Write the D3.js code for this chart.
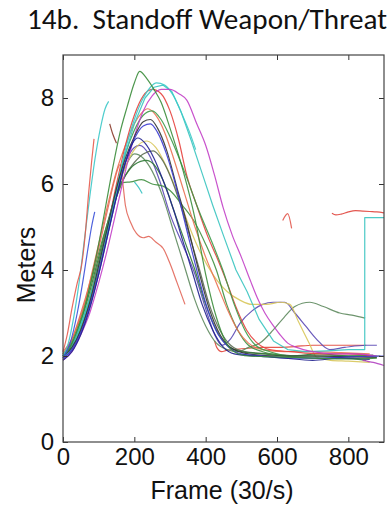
<!DOCTYPE html>
<html>
<head>
<meta charset="utf-8">
<script src="https://cdn.jsdelivr.net/npm/d3@7"></script>
<style>
  body { margin: 0; background: #fff; }
  svg { display: block; }
  .tick text { font-family: "Liberation Sans", Arial, sans-serif; font-size: 24px; fill: #111; }
  .tick line { stroke: #333; }
</style>
</head>
<body>
<div id="chart"></div>
<script>
// Standoff weapon / threat: distance (meters) per frame, one trace per trial

// ---- data ----
var titleText = "14b.  Standoff Weapon/Threat";
var xLabel = "Frame (30/s)";
var yLabel = "Meters";
var xTicks = [0, 200, 400, 600, 800];
var yTicks = [0, 2, 4, 6, 8];

// each trace: [frame, meters]
var cyanEarly = [[0,2.0],[15,2.3],[30,2.9],[45,3.7],[60,4.7],[75,5.7],[90,6.6],[105,7.3],[118,7.75],[128,7.92]];
var redEarly = [[0,2.1],[12,2.5],[25,3.1],[40,3.7],[52,4.1],[62,4.8],[72,5.8],[80,6.5],[87,7.05]];
var blueShort = [[0,1.95],[20,2.3],[40,3.0],[55,3.7],[70,4.5],[80,5.0],[89,5.35]];
var greenTall = [[0,2.0],[20,2.2],[40,2.6],[60,3.1],[80,3.8],[100,4.6],[120,5.5],[140,6.4],[160,7.2],[180,7.8],[200,8.35],[215,8.62],[235,8.45],[255,8.2],[275,7.9],[300,7.3],[337,6.3],[370,5.2],[400,3.9],[430,2.9],[455,2.35],[480,2.1],[520,2.0],[600,1.98],[700,1.95],[800,1.93],[880,1.95]];
var cyanStop = [[0,1.95],[25,2.2],[50,2.7],[75,3.3],[100,4.1],[125,5.0],[150,5.9],[175,6.8],[200,7.5],[225,8.0],[245,8.25],[262,8.35],[285,8.3],[310,8.05],[335,7.6],[355,7.2],[372,6.8]];
var cyanLong = [[0,2.0],[25,2.25],[50,2.75],[75,3.35],[100,4.1],[125,4.9],[150,5.8],[175,6.7],[200,7.4],[230,8.0],[255,8.25],[280,8.3],[305,8.15],[330,7.7],[360,7.0],[392,6.2],[420,5.5],[450,4.8],[485,4.0],[516,3.5],[550,2.85],[590,2.35],[630,2.15],[680,2.1],[740,2.12],[800,2.15],[846,2.15],[846,5.22],[900,5.22]];
var magentaLong = [[0,1.9],[25,2.1],[50,2.5],[75,3.0],[100,3.7],[125,4.5],[150,5.4],[175,6.3],[200,7.1],[225,7.7],[250,8.05],[275,8.2],[300,8.2],[325,8.1],[347,7.95],[375,7.4],[400,6.9],[425,6.2],[449,5.45],[475,4.8],[500,4.3],[525,3.76],[545,3.35],[566,3.0],[590,2.7],[608,2.5],[630,2.3],[655,2.2],[700,2.1],[760,2.05],[820,2.05],[880,2.0]];
var redPeak = [[0,1.95],[25,2.2],[50,2.65],[75,3.3],[100,4.1],[125,5.0],[150,6.0],[175,6.9],[200,7.6],[225,8.05],[250,8.2],[275,8.1],[300,7.7],[325,7.0],[347,6.2],[375,5.5],[405,4.8],[431,4.3],[460,3.7],[487,3.1],[515,2.6],[545,2.3],[580,2.15],[640,2.1],[720,2.05],[800,2.05],[870,2.0]];
var orangeRed = [[0,2.05],[20,2.3],[40,2.7],[60,3.2],[80,3.9],[100,4.6],[125,5.5],[150,6.3],[175,6.9],[200,7.4],[220,7.65],[238,7.75],[260,7.6],[285,7.2],[310,6.6],[340,5.8],[370,5.0],[400,4.3],[430,3.7],[460,3.1],[490,2.6],[520,2.3],[560,2.15],[620,2.1],[700,2.1],[780,2.08],[860,2.05]];
var darkTrace = [[0,2.0],[25,2.2],[50,2.6],[75,3.25],[100,4.1],[125,5.0],[150,5.9],[175,6.6],[200,7.1],[225,7.45],[245,7.5],[265,7.3],[290,6.8],[320,5.9],[350,5.0],[380,4.0],[410,3.1],[440,2.5],[470,2.2],[520,2.05],[600,2.0],[700,2.0],[800,1.98],[880,1.97]];
var blueMid = [[0,1.95],[25,2.15],[50,2.55],[75,3.15],[100,3.9],[125,4.8],[150,5.7],[175,6.5],[200,7.05],[225,7.35],[245,7.4],[265,7.2],[290,6.7],[315,6.0],[345,5.0],[375,4.0],[405,3.1],[435,2.5],[465,2.2],[500,2.05],[560,2.0],[640,1.95],[720,1.95],[800,1.98],[900,2.0]];
var navyTrace = [[0,1.9],[25,2.1],[50,2.5],[75,3.1],[100,3.9],[125,4.8],[150,5.7],[175,6.5],[195,6.95],[210,7.07],[230,6.95],[255,6.6],[280,6.1],[310,5.4],[335,4.7],[361,4.0],[390,3.2],[420,2.6],[450,2.2],[480,2.05],[540,2.0],[620,1.95],[700,1.9],[780,1.95],[860,1.92]];
var grayGreen = [[0,2.0],[25,2.25],[50,2.7],[75,3.35],[100,4.2],[125,5.0],[150,5.7],[175,6.2],[200,6.5],[225,6.7],[253,6.77],[275,6.6],[300,6.2],[330,5.5],[355,4.8],[383,4.0],[410,3.2],[440,2.6],[470,2.25],[510,2.1],[580,2.05],[660,2.0],[740,2.0],[820,2.0],[890,2.0]];
var darkGreen = [[0,2.05],[25,2.3],[50,2.8],[75,3.5],[100,4.3],[125,5.1],[150,5.8],[175,6.2],[200,6.45],[235,6.55],[260,6.4],[285,6.0],[310,5.4],[340,4.7],[370,4.0],[400,3.2],[430,2.6],[460,2.25],[500,2.1],[560,2.05],[640,2.0],[720,2.05],[800,2.0],[870,2.02]];
var greenPlateau = [[0,2.05],[25,2.35],[50,2.9],[75,3.6],[100,4.4],[125,5.1],[150,5.7],[168,6.03],[190,6.05],[220,6.1],[250,6.0],[280,5.95],[300,5.85],[335,5.5],[370,5.1],[400,4.6],[430,4.0],[459,3.2],[490,2.6],[520,2.25],[560,2.1],[620,2.0],[700,1.95],[780,1.95],[850,1.9]];
var cyanHook = [[200,6.05],[212,5.92],[222,5.78]];
var redDrop = [[0,2.1],[25,2.4],[50,3.0],[75,3.7],[100,4.5],[125,5.4],[145,6.1],[160,6.45],[168,6.0],[175,5.5],[190,5.1],[206,4.85],[225,4.75],[240,4.78],[260,4.65],[281,4.5],[300,4.15],[320,3.7],[342,3.2]];
var purpleBump = [[0,1.95],[25,2.15],[50,2.6],[75,3.2],[100,4.0],[125,4.9],[150,5.8],[175,6.5],[200,6.85],[215,6.9],[240,6.7],[270,6.1],[300,5.3],[335,4.6],[370,3.9],[400,3.1],[425,2.5],[445,2.25],[470,2.4],[496,2.76],[530,3.05],[560,3.2],[589,3.25],[622,3.25],[650,3.0],[680,2.7],[710,2.4],[748,2.15],[790,2.2],[850,2.25],[880,2.25]];
var greenBump = [[0,2.0],[25,2.25],[50,2.7],[75,3.3],[100,4.1],[125,5.0],[150,5.8],[175,6.4],[200,6.7],[225,6.6],[250,6.3],[280,5.7],[310,4.9],[340,4.1],[370,3.3],[400,2.7],[430,2.3],[460,2.15],[490,2.1],[520,2.2],[552,2.3],[589,2.6],[620,2.9],[650,3.15],[692,3.25],[730,3.15],[776,3.0],[810,2.95],[847,2.88]];
var yellowBump = [[0,2.0],[25,2.25],[50,2.75],[75,3.4],[100,4.2],[125,5.0],[150,5.8],[175,6.4],[200,6.8],[235,7.0],[260,6.85],[290,6.4],[320,5.8],[350,5.1],[380,4.5],[420,3.9],[460,3.5],[496,3.3],[530,3.2],[570,3.2],[610,3.25],[636,3.2],[660,2.8],[690,2.3],[711,1.97],[750,1.9],[800,1.88],[860,1.85]];
var greenMid = [[0,2.0],[25,2.2],[50,2.65],[75,3.3],[100,4.1],[125,5.0],[150,5.9],[175,6.7],[200,7.25],[225,7.6],[250,7.7],[275,7.5],[300,7.1],[340,6.3],[380,5.4],[420,4.6],[448,4.0],[480,3.2],[510,2.6],[540,2.25],[580,2.1],[650,2.0],[750,2.0],[850,2.0]];
var redBottom = [[425,2.35],[431,2.2],[445,2.1],[458,2.13],[480,2.15],[520,2.18],[560,2.2],[600,2.2],[650,2.22],[700,2.25],[750,2.25],[800,2.25],[850,2.25]];
var redOne = [[616,5.15],[630,5.31],[641,4.97]];
var redRight = [[754,5.32],[765,5.28],[780,5.3],[800,5.35],[820,5.38],[840,5.37],[860,5.36],[880,5.35],[900,5.33]];
var magentaLow = [[840,1.9],[870,1.85],[900,1.78]];
var brownShort = [[131,7.4],[140,7.15],[150,6.95]];

var traces = [
  { key: "redBottom", pts: redBottom },
  { key: "greenBump", pts: greenBump },
  { key: "purpleBump", pts: purpleBump },
  { key: "yellowBump", pts: yellowBump },
  { key: "grayGreen", pts: grayGreen },
  { key: "darkGreen", pts: darkGreen },
  { key: "greenPlateau", pts: greenPlateau },
  { key: "cyanHook", pts: cyanHook },
  { key: "redDrop", pts: redDrop },
  { key: "orangeRed", pts: orangeRed },
  { key: "redPeak", pts: redPeak },
  { key: "greenMid", pts: greenMid },
  { key: "cyanLong", pts: cyanLong },
  { key: "cyanStop", pts: cyanStop },
  { key: "magentaLong", pts: magentaLong },
  { key: "darkTrace", pts: darkTrace },
  { key: "blueMid", pts: blueMid },
  { key: "navyTrace", pts: navyTrace },
  { key: "greenTall", pts: greenTall },
  { key: "cyanEarly", pts: cyanEarly },
  { key: "redEarly", pts: redEarly },
  { key: "blueShort", pts: blueShort },
  { key: "brownShort", pts: brownShort },
  { key: "redOne", pts: redOne },
  { key: "redRight", pts: redRight },
  { key: "magentaLow", pts: magentaLow }
];

// line colours (washed-out matlab palette)
var traceColor = {
  redBottom: "#e2473c", greenBump: "#5e8a5e", purpleBump: "#5a48b4", yellowBump: "#d8c65a",
  grayGreen: "#5c6c52", darkGreen: "#2f7a35", greenPlateau: "#3f8f3f", cyanHook: "#36c2c2",
  redDrop: "#e2675a", orangeRed: "#ea7050", redPeak: "#e5403c", greenMid: "#3c9a48",
  cyanLong: "#38c4c0", cyanStop: "#3ccac8", magentaLong: "#c23fc6", darkTrace: "#333333",
  blueMid: "#3a3ad0", navyTrace: "#20208e", greenTall: "#3a8c3a", cyanEarly: "#3cc8c8",
  redEarly: "#e55a4c", blueShort: "#3a50d8", brownShort: "#8a3a2a", redOne: "#e2584c",
  redRight: "#e0443c", magentaLow: "#b040c0"
};

// ---- layout ----
var W = 392, H = 513;
var plot = { left: 63, right: 384, top: 55, bottom: 442 };

var svg = d3.select("#chart").append("svg")
  .attr("width", W)
  .attr("height", H);

var x = d3.scaleLinear().domain([0, 900]).range([plot.left, plot.right]);
var y = d3.scaleLinear().domain([0, 9]).range([plot.bottom, plot.top]);

// traces
var line = d3.line()
  .x(function(d) { return x(d[0]); })
  .y(function(d) { return y(d[1]); })
  .curve(d3.curveMonotoneX);

var lineLinear = d3.line()
  .x(function(d) { return x(d[0]); })
  .y(function(d) { return y(d[1]); });

var g = svg.append("g");
g.selectAll("path.trace")
  .data(traces)
  .enter()
  .append("path")
  .attr("class", "trace")
  .attr("fill", "none")
  .attr("stroke", function(d) { return traceColor[d.key]; })
  .attr("stroke-width", 1.2)
  .attr("stroke-linejoin", "round")
  .attr("opacity", 0.9)
  .attr("d", function(d) {
    // traces with vertical jumps or back-steps can't use monotone
    var mono = true;
    for (var i = 1; i < d.pts.length; i++) if (d.pts[i][0] <= d.pts[i-1][0]) mono = false;
    return mono ? line(d.pts) : lineLinear(d.pts);
  });

// axes: ticks pointing inside, box all round
svg.append("g")
  .attr("transform", "translate(0," + plot.bottom + ")")
  .call(d3.axisBottom(x).tickValues(xTicks).tickSizeInner(-5).tickSizeOuter(0).tickPadding(6))
  .call(function(a) { a.select(".domain").remove(); });

svg.append("g")
  .attr("transform", "translate(0," + plot.top + ")")
  .call(d3.axisTop(x).tickValues(xTicks).tickSizeInner(-5).tickSizeOuter(0).tickFormat(""))
  .call(function(a) { a.select(".domain").remove(); });

svg.append("g")
  .attr("transform", "translate(" + plot.left + ",0)")
  .call(d3.axisLeft(y).tickValues(yTicks).tickSizeInner(-5).tickSizeOuter(0).tickPadding(9))
  .call(function(a) { a.select(".domain").remove(); });

svg.append("g")
  .attr("transform", "translate(" + plot.right + ",0)")
  .call(d3.axisRight(y).tickValues(yTicks).tickSizeInner(-5).tickSizeOuter(0).tickFormat(""))
  .call(function(a) { a.select(".domain").remove(); });

svg.append("rect")
  .attr("x", plot.left)
  .attr("y", plot.top)
  .attr("width", plot.right - plot.left)
  .attr("height", plot.bottom - plot.top)
  .attr("fill", "none")
  .attr("stroke", "#444")
  .attr("stroke-width", 1.2);

// labels
svg.append("text")
  .attr("x", 222)
  .attr("y", 499)
  .attr("text-anchor", "middle")
  .style("font-family", "'Liberation Sans', Arial, sans-serif")
  .style("font-size", "25px")
  .attr("fill", "#111")
  .text(xLabel);

svg.append("text")
  .attr("transform", "translate(35," + 265 + ") rotate(-90)")
  .attr("text-anchor", "middle")
  .style("font-family", "'Liberation Sans', Arial, sans-serif")
  .style("font-size", "25px")
  .attr("fill", "#111")
  .text(yLabel);

var title = svg.append("text")
  .attr("x", 207)
  .attr("y", 29)
  .attr("text-anchor", "middle")
  .style("font-family", "Carlito, Calibri, Lato, sans-serif")
  .style("font-size", "22px")
  .attr("fill", "#111")
  .attr("xml:space", "preserve")
  .style("white-space", "pre")
  .text(titleText);

// fit title to the width it takes in the original
var tw = title.node().getComputedTextLength();
title.style("font-size", (22 * 360 / tw).toFixed(2) + "px");
</script>
</body>
</html>
